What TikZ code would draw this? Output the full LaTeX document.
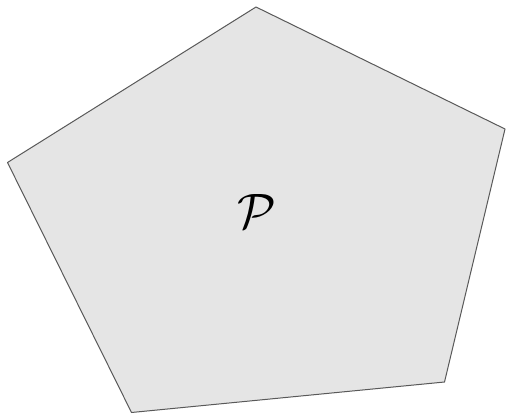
\documentclass[tikz,border=0pt]{standalone}
\usepackage{amsmath}
\begin{document}
\begin{tikzpicture}[x=0.5pt,y=-0.5pt,
  poly/.style={draw=black!65,fill=black!10,line width=0.5pt,line join=round},
  lbl/.style={inner sep=0pt,font=\fontsize{24}{28}\selectfont}]
\useasboundingbox (0,0) rectangle (506,416);
\coordinate (v1) at (256,7);
\coordinate (v2) at (505,129);
\coordinate (v3) at (444.5,382);
\coordinate (v4) at (131.5,412.5);
\coordinate (v5) at (7.5,162.5);
\draw[poly] (v1) -- (v2) -- (v3) -- (v4) -- (v5) -- cycle;
\node[lbl] (P) at (257,211) {$\mathcal{P}$};
\end{tikzpicture}
\end{document}
